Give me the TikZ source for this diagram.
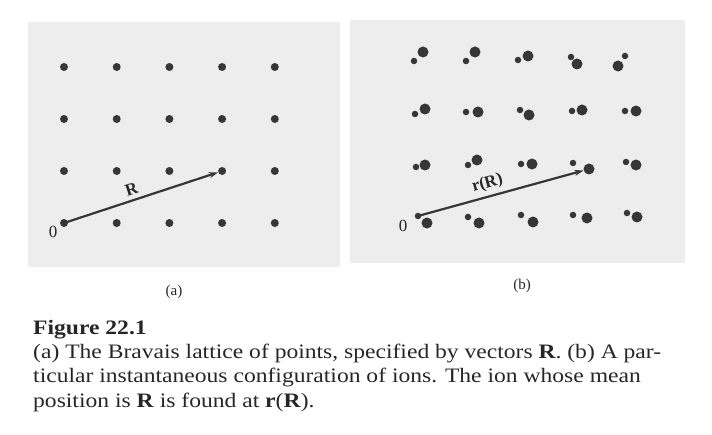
\documentclass[tikz,border=0pt]{standalone}
\usepackage{fontspec}
\setmainfont{Liberation Serif}
\newfontfamily\capfont[FakeStretch=1.15]{Liberation Serif}
\usetikzlibrary{arrows.meta}
\definecolor{ink}{HTML}{363636}
\definecolor{paper}{HTML}{EDEDED}
\definecolor{type}{HTML}{262626}

\begin{document}
\begin{tikzpicture}[x=1pt, y=-1pt,
    site/.style={circle, fill=ink, inner sep=0pt, minimum size=8pt},
    mean/.style={circle, fill=ink, inner sep=0pt, minimum size=6.5pt},
    ion/.style={circle, fill=ink, inner sep=0pt, minimum size=11pt},
    vec/.style={-{Stealth[length=9pt, width=6pt]}, ink, line width=2.2pt},
    tag/.style={text=type, inner sep=1pt, font=\fontsize{15}{15}\selectfont},
    sym/.style={text=type, inner sep=1pt, font=\fontsize{17}{17}\selectfont},
    caption/.style={text=type, anchor=base west, inner sep=0pt,
                    font=\capfont\fontsize{20.5}{24}\selectfont}]
  \useasboundingbox (0,0) rectangle (712,435);

  % panel (a): the Bravais lattice
  \fill[paper] (28,22) rectangle (340,267);
  \foreach \i in {0,...,4}
    \foreach \j in {0,...,3}
      \node[site] (a-\i-\j) at ({64+52.7*\i},{223-52*\j}) {};
  \node[sym] (a-zero) at (53,232) {0};
  \draw[vec] (a-0-0.center) -- (a-3-1)
    node[pos=0.46, above=3pt, sloped, sym] (a-vec) {\textbf{R}};

  % panel (b): mean positions and the ions
  \fill[paper] (350,20) rectangle (685,263);
  \foreach \i/\j/\mx/\my/\ix/\iy in {
      0/3/414/61/423/52,  1/3/466/61/475/52,  2/3/518/60/528/56,
      3/3/571/57/577/64,  4/3/625/56/618/66,
      0/2/415/114/425/109, 1/2/466/112/478/112, 2/2/520/110/529/115,
      3/2/572/111/582/110, 4/2/625/111/636/111,
      0/1/416/167/425/165, 1/1/468/165/477/160, 2/1/521/164/532/164,
      3/1/573/163/589/169, 4/1/626/162/636/165,
      0/0/418/216/427/223, 1/0/468/217/479/223, 2/0/521/215/533/222,
      3/0/573/215/587/218, 4/0/627/213/637/217} {
    \node[mean] (m-\i-\j) at (\mx,\my) {};
    \node[ion] (ion-\i-\j) at (\ix,\iy) {};
  }
  \node[sym] (b-zero) at (403,226) {0};
  \draw[vec] (m-0-0.center) -- (ion-3-1)
    node[pos=0.44, above=3pt, sloped, sym] (b-vec) {\textbf{r(R)}};

  % sub-labels and caption
  \node[tag] (cap-a) at (174,292) {(a)};
  \node[tag] (cap-b) at (522,286) {(b)};
  \node[caption] (fig)   at (33,335) {\textbf{Figure 22.1}};
  \node[caption] (line1) at (33,359) {(a) The Bravais lattice of points, specified by vectors \textbf{R}. (b) A par-};
  \node[caption] (line2) at (33,383) {ticular instantaneous configuration of ions. The ion whose mean};
  \node[caption] (line3) at (33,407) {position is \textbf{R} is found at \textbf{r}(\textbf{R}).};
\end{tikzpicture}
\end{document}
